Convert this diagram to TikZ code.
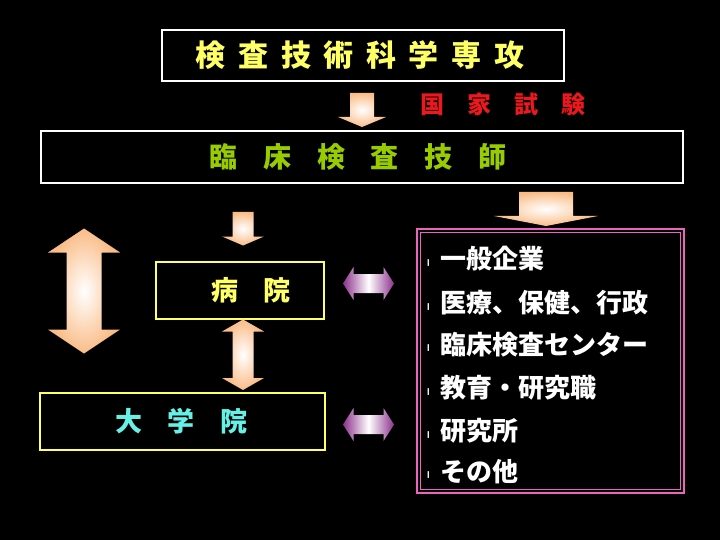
\documentclass[tikz,border=0pt]{standalone}
\usepackage{fontspec}
\newfontfamily\jp{Noto Sans CJK JP}
\usetikzlibrary{positioning}

\definecolor{titleyellow}{RGB}{255,255,102}
\definecolor{examred}{RGB}{235,25,30}
\definecolor{gishigreen}{RGB}{153,204,0}
\definecolor{gradcyan}{RGB}{102,240,230}
\definecolor{careerpink}{RGB}{235,100,190}
\definecolor{peach}{RGB}{250,188,135}
\definecolor{lilac}{RGB}{140,50,140}

\tikzset{
  whitebox/.style={draw=white,line width=1.6pt,inner sep=0pt},
  yellowbox/.style={draw=titleyellow,line width=1.3pt,inner sep=0pt},
  jtext/.style={font=\jp\bfseries\fontsize{#1}{#1}\selectfont},
  peachfill/.style={shade,inner color=white,outer color=peach},
  lilacfill/.style={shade,left color=lilac,right color=lilac,middle color=white},
  item/.style={anchor=west,text=white,jtext=26,inner sep=0pt},
  itemmark/.style={text=white,font=\sffamily\bfseries\fontsize{10}{10}\selectfont,inner sep=0pt}
}

% block arrows: x, y top, y bottom, shaft half width, head half width, head length
\newcommand{\downblock}[6]{%
  \path[peachfill] (#1-#4,#2) -- (#1+#4,#2) -- (#1+#4,#3-#6) -- (#1+#5,#3-#6)
    -- (#1,#3) -- (#1-#5,#3-#6) -- (#1-#4,#3-#6) -- cycle;}
\newcommand{\updownblock}[6]{%
  \path[peachfill] (#1,#2) -- (#1+#5,#2+#6) -- (#1+#4,#2+#6) -- (#1+#4,#3-#6)
    -- (#1+#5,#3-#6) -- (#1,#3) -- (#1-#5,#3-#6) -- (#1-#4,#3-#6)
    -- (#1-#4,#2+#6) -- (#1-#5,#2+#6) -- cycle;}
% y, x left, x right, shaft half height, head half height, head length
\newcommand{\leftrightblock}[6]{%
  \path[lilacfill] (#2,#1) -- (#2+#6,#1-#5) -- (#2+#6,#1-#4) -- (#3-#6,#1-#4)
    -- (#3-#6,#1-#5) -- (#3,#1) -- (#3-#6,#1+#5) -- (#3-#6,#1+#4)
    -- (#2+#6,#1+#4) -- (#2+#6,#1+#5) -- cycle;}

\begin{document}
\begin{tikzpicture}[x=1pt,y=-1pt]
\fill[black] (0,0) rectangle (720,540);
\useasboundingbox (0,0) rectangle (720,540);

% boxes
\node[whitebox,minimum width=402pt,minimum height=51pt,text=titleyellow,jtext=30] (senkou) at (363,55.5)
  {\addfontfeature{LetterSpace=42}検査技術科学専攻\hspace*{6pt}};
\node[text=examred,jtext=24,inner sep=0pt] (shiken) at (503,104)
  {\addfontfeature{LetterSpace=95}国家試験};
\node[whitebox,minimum width=642pt,minimum height=52pt,text=gishigreen,jtext=28] (gishi) at (362,157)
  {\addfontfeature{LetterSpace=92}臨床検査技師\hspace*{8pt}};
\node[yellowbox,minimum width=168pt,minimum height=57pt,text=titleyellow,jtext=27] (byouin) at (240,290.5)
  {\hspace*{22pt}\addfontfeature{LetterSpace=90}病院};
\node[yellowbox,minimum width=285pt,minimum height=57pt,text=gradcyan,jtext=27] (daigakuin) at (182.5,421.5)
  {\addfontfeature{LetterSpace=95}大学院\hspace*{2pt}};
\node[draw=careerpink,line width=2.6pt,minimum width=267pt,minimum height=264pt,inner sep=0pt] (shinro) at (550.5,361) {};
\draw[careerpink,line width=1pt] ([shift={(4.5,4.5)}]shinro.north west) rectangle ([shift={(-4.5,-4.5)}]shinro.south east);

% career list
\foreach \y/\t [count=\i] in {259/一般企業,303/医療、保健、行政,344.5/臨床検査センター,388/教育・研究職,431/研究所,471.5/その他}{
  \node[itemmark] (mark\i) at (428.5,\y+4) {l};
  \node[item] (item\i) at (440,\y) {\t};
}

% block arrows
\downblock{362}{93}{127}{12}{24}{10}
\downblock{546}{192}{226}{27}{52}{10}
\downblock{243}{212}{245.5}{10.5}{21}{9}
\updownblock{84}{228.5}{353.5}{17.5}{36}{24}
\updownblock{243}{319.5}{390}{10.5}{21}{12}
\leftrightblock{283.5}{343}{394}{9.5}{16.5}{10.5}
\leftrightblock{424.5}{343}{394}{9.5}{16.5}{10.5}
\end{tikzpicture}
\end{document}
